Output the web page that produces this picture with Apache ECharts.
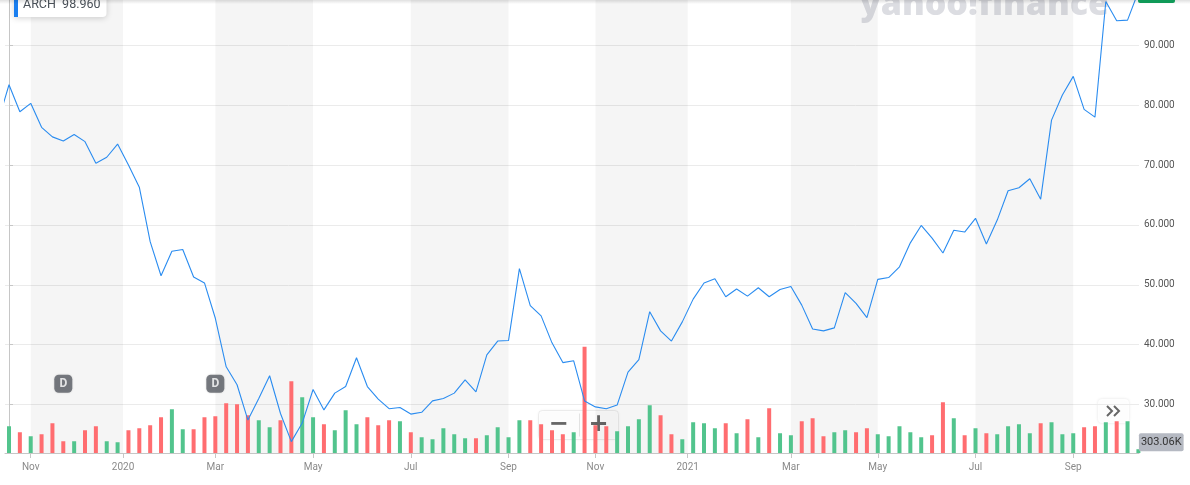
<!DOCTYPE html>
<html>
<head>
<meta charset="utf-8">
<script src="https://cdn.jsdelivr.net/npm/echarts@6/dist/echarts.min.js"></script>
<style>html,body{margin:0;padding:0;background:#fff}#c{width:1190px;height:485px}</style>
</head>
<body>
<div id="c"></div>
<script>
// ---- data (weekly, index 0 = first full week on screen) ----
const ticker = 'ARCH';
const priorClose = 77.3; // the week before the first visible week (off the left edge)
const closes = [
  83.4, 78.9, 80.3, 76.3, 74.7, 74.0, 75.1, 73.9, 70.3, 71.3,
  73.5, 70.0, 66.3, 57.2, 51.5, 55.6, 55.9, 51.3, 50.3, 44.4,
  36.3, 33.3, 27.4, 31.0, 34.8, 28.5, 23.8, 26.9, 32.5, 29.1,
  31.9, 33.0, 37.8, 33.0, 30.9, 29.3, 29.5, 28.4, 28.7, 30.6,
  31.0, 31.9, 34.1, 32.1, 38.3, 40.6, 40.7, 52.7, 46.5, 44.8,
  40.3, 37.0, 37.3, 30.6, 29.6, 29.3, 29.9, 35.4, 37.5, 45.5,
  42.3, 40.6, 43.8, 47.6, 50.3, 51.0, 48.0, 49.3, 48.1, 49.5,
  48.0, 49.2, 49.7, 46.6, 42.6, 42.3, 42.8, 48.7, 46.9, 44.5,
  50.9, 51.2, 53.0, 57.0, 59.9, 57.8, 55.3, 59.1, 58.8, 61.1,
  56.8, 60.8, 65.7, 66.2, 67.7, 64.3, 77.5, 81.7, 84.8, 79.3,
  78.0, 97.3, 94.1, 94.2, 98.96
];
// weekly volume, millions of shares
const volumes = [
  2.14, 1.66, 1.34, 1.50, 2.38, 0.94, 0.94, 1.82, 2.14, 0.94,
  0.86, 1.82, 1.98, 2.22, 2.86, 3.50, 1.90, 1.90, 2.86, 2.94,
  3.98, 3.90, 3.02, 2.62, 2.06, 2.62, 5.74, 4.46, 2.86, 2.30,
  1.82, 3.42, 2.30, 2.86, 2.22, 2.62, 2.54, 1.66, 1.26, 1.10,
  1.98, 1.50, 1.18, 1.18, 1.42, 2.06, 1.26, 2.62, 2.62, 2.30,
  1.82, 1.50, 1.66, 8.50, 2.22, 2.14, 1.74, 2.14, 2.70, 3.82,
  3.02, 1.50, 1.10, 2.46, 2.38, 1.98, 2.38, 1.58, 2.70, 1.26,
  3.58, 1.58, 1.42, 2.54, 2.78, 1.34, 1.66, 1.82, 1.66, 1.98,
  1.50, 1.34, 2.14, 1.66, 1.26, 1.42, 4.06, 2.78, 1.42, 1.98,
  1.58, 1.50, 2.14, 2.30, 1.58, 2.38, 2.46, 1.50, 1.58, 2.06,
  2.14, 2.46, 2.54, 2.54, 0.30306
];
// G = up week (green volume), R = down week (red volume)
const direction =
  'GRGRRRGRRG' + 'GRRRRGGRRR' + 'RRRGGRRGGR' + 'GGGRRRGRGG' + 'GGGRGGGGRR' +
  'RRGRRRGGGG' + 'RRGGGGRGRG' + 'RGGRRRGGRR' + 'GGGGGRRGRG' + 'RGGGGRGGGR' + 'RGRGG';
const tickWeeks  = [2, 10.5, 19, 28, 37, 46, 54, 62.5, 72, 80, 89, 98];
const tickLabels = ['Nov', '2020', 'Mar', 'May', 'Jul', 'Sep', 'Nov', '2021', 'Mar', 'May', 'Jul', 'Sep'];
const priceTicks = [30, 40, 50, 60, 70, 80, 90];
const dividendWeeks = [5, 19];

// ---- build ----
const LINE = '#2a8cf0', GREEN = '#52c48d', RED = '#ff6d70';
const FONT = 'Roboto, "Liberation Sans", sans-serif';
const lineData = [[-1, priorClose]].concat(closes.map((c, i) => [i, c]));
const volData = volumes.map((v, i) => ({
  value: [i, v],
  itemStyle: { color: direction[i] === 'G' ? GREEN : RED }
}));
const bands = [];
for (let i = 0; i + 1 < tickWeeks.length; i += 2) {
  bands.push([{ xAxis: tickWeeks[i] }, { xAxis: tickWeeks[i + 1] }]);
}
const lastClose = closes[closes.length - 1];
const lastVol = volumes[volumes.length - 1];
const lastIdx = volumes.length - 1;

const chart = echarts.init(document.getElementById('c'), null, { renderer: 'canvas' });
chart.setOption({
  animation: false,
  backgroundColor: '#ffffff',
  textStyle: { fontFamily: FONT },
  grid: { left: 5, right: 51, top: 0, bottom: 32, containLabel: false },
  legend: {
    data: [{ name: ticker, icon: 'rect' }],
    left: 14, top: -7,
    itemWidth: 4, itemHeight: 24, itemGap: 0,
    padding: [0, 6, 0, 0],
    backgroundColor: '#ffffff',
    borderRadius: [0, 4, 4, 0],
    shadowBlur: 6, shadowColor: 'rgba(0,0,0,0.18)', shadowOffsetY: 1,
    selectedMode: false,
    formatter: n => n + '  ' + lastClose.toFixed(3),
    textStyle: { color: '#4a5159', fontSize: 12.5, fontFamily: FONT }
  },
  xAxis: {
    type: 'value',
    min: -0.368, max: 104.055,
    axisLine: { show: true, lineStyle: { color: '#c6c6c6' } },
    axisTick: { show: true, customValues: tickWeeks, length: 5, lineStyle: { color: '#c6c6c6' } },
    axisLabel: {
      customValues: tickWeeks,
      margin: 9,
      fontSize: 10,
      fontFamily: FONT,
      formatter: v => { const i = tickWeeks.indexOf(v); return i >= 0 ? tickLabels[i] : ''; },
      color: v => { const i = tickWeeks.indexOf(v); return (i >= 0 && /^\d/.test(tickLabels[i])) ? '#444' : '#8a8a8a'; }
    },
    splitLine: { show: false }
  },
  yAxis: [{
    type: 'value',
    position: 'right',
    min: 21.9, max: 97.56,
    axisLine: { show: true, lineStyle: { color: '#c6c6c6' } },
    axisTick: { show: true, customValues: priceTicks, length: 4, lineStyle: { color: '#c6c6c6' } },
    axisLabel: {
      customValues: priceTicks, margin: 5, fontSize: 10, color: '#555', fontFamily: FONT,
      formatter: v => v.toFixed(3)
    },
    splitLine: { show: true, lineStyle: { color: '#ebebeb', width: 1 } }
  }, {
    type: 'value',
    min: 0, max: 36.24,
    show: false,
    splitLine: { show: false }
  }],
  series: [{
    name: 'Volume',
    type: 'bar',
    yAxisIndex: 1,
    barWidth: 4,
    data: volData,
    markPoint: {
      symbol: 'rect', symbolSize: 1,
      itemStyle: { color: 'rgba(0,0,0,0)' },
      label: {
        show: true, position: 'right', distance: 0, offset: [0, -7],
        backgroundColor: '#b5b9c2', color: '#333', fontSize: 11, fontFamily: FONT,
        padding: [4, 2, 3, 2], borderRadius: 2,
        formatter: () => (lastVol * 1000).toFixed(2) + 'K'
      },
      data: [{ coord: [lastIdx, lastVol] }]
    },
    z: 2
  }, {
    name: ticker,
    type: 'line',
    data: lineData,
    symbol: 'none',
    clip: true,
    lineStyle: { color: LINE, width: 1.1 },
    itemStyle: { color: '#1a7ff0' },
    markArea: {
      silent: true,
      itemStyle: { color: 'rgba(0,0,0,0.04)' },
      data: bands
    },
    z: 3
  }, {
    name: 'Dividend',
    type: 'scatter',
    data: dividendWeeks.map(w => [w, 33.46]),
    symbol: 'roundRect',
    symbolSize: 18,
    itemStyle: { color: '#5b5f66', shadowBlur: 2, shadowColor: 'rgba(0,0,0,0.2)' },
    label: { show: true, position: 'inside', formatter: 'D', color: '#fff', fontWeight: 'bold', fontSize: 12, fontFamily: FONT },
    z: 4
  }],
  graphic: [
    { type: 'text', left: 860, top: -12, z: 0, silent: true,
      style: { text: 'yahoo!finance', fill: '#dcdde2', font: '900 34px "Open Sans", Lato, sans-serif' } },
    { type: 'rect', left: 0, top: 0, silent: true, z: 10,
      shape: { width: 1190, height: 4 },
      style: { fill: new echarts.graphic.LinearGradient(0, 0, 0, 1, [{ offset: 0, color: 'rgba(0,0,0,0.12)' }, { offset: 1, color: 'rgba(0,0,0,0)' }]) } },
    { type: 'rect', left: 1138, top: -20, silent: true, z: 10,
      shape: { width: 37, height: 23, r: 2 }, style: { fill: '#109a58' } },
    { type: 'group', left: 538, top: 410, z: 20, silent: true, children: [
      { type: 'rect', shape: { x: 0, y: 0, width: 80, height: 29, r: 4 },
        style: { fill: 'rgba(255,255,255,0.78)', stroke: 'rgba(0,0,0,0.06)', shadowBlur: 3, shadowColor: 'rgba(0,0,0,0.08)' } },
      { type: 'line', shape: { x1: 41, y1: 3, x2: 41, y2: 26 }, style: { stroke: 'rgba(0,0,0,0.1)' } },
      { type: 'text', x: 20, y: 14, style: { text: '−', fill: '#666', font: 'bold 24px "DejaVu Sans", sans-serif', align: 'center', verticalAlign: 'middle' } },
      { type: 'text', x: 60, y: 14, style: { text: '+', fill: '#666', font: 'bold 24px "DejaVu Sans", sans-serif', align: 'center', verticalAlign: 'middle' } }
    ] },
    { type: 'group', left: 1098, top: 399, z: 20, silent: true, children: [
      { type: 'rect', shape: { x: 0, y: 0, width: 31, height: 24, r: 4 },
        style: { fill: 'rgba(255,255,255,0.92)', shadowBlur: 3, shadowColor: 'rgba(0,0,0,0.12)' } },
      { type: 'polyline', shape: { points: [[9, 7], [14, 12], [9, 17]] }, style: { stroke: '#666', lineWidth: 2, fill: null } },
      { type: 'polyline', shape: { points: [[16, 7], [21, 12], [16, 17]] }, style: { stroke: '#666', lineWidth: 2, fill: null } }
    ] }
  ]
});
</script>
</body>
</html>
